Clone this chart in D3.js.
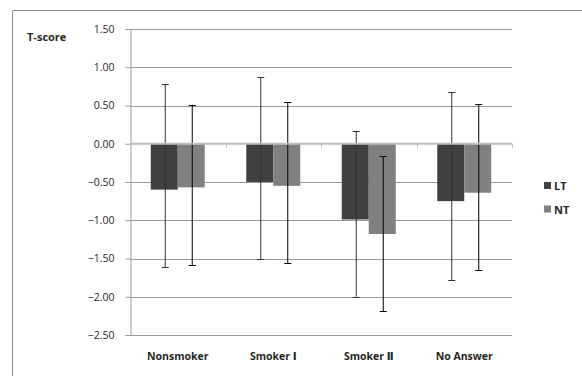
<!DOCTYPE html>
<html>
<head>
<meta charset="utf-8">
<script src="https://cdn.jsdelivr.net/npm/d3@7"></script>
<style>
  html, body { margin: 0; padding: 0; background: #fff; }
  svg { display: block; }
</style>
</head>
<body>
<svg id="chart" width="582" height="376"></svg>
<script>
const categories = ["Nonsmoker", "Smoker \u2160", "Smoker \u2161", "No Answer"];
const seriesNames = ["LT", "NT"];
const ltValues = [-0.60, -0.50, -0.99, -0.75];
const ntValues = [-0.57, -0.55, -1.18, -0.64];
const ltHigh = [0.78, 0.87, 0.17, 0.67];
const ltLow = [-1.61, -1.51, -2.00, -1.78];
const ntHigh = [0.51, 0.54, -0.16, 0.52];
const ntLow = [-1.59, -1.56, -2.19, -1.65];
const yTicks = [1.5, 1.0, 0.5, 0.0, -0.5, -1.0, -1.5, -2.0, -2.5];
const yTitle = "T-score";

const seriesColors = { LT: "#404040", NT: "#808080" };
const errColors = { LT: "#333333", NT: "#000000" };

const series = [
  { name: "LT", values: ltValues, high: ltHigh, low: ltLow },
  { name: "NT", values: ntValues, high: ntHigh, low: ntLow }
];

const svg = d3.select("#chart");
const font = "'Open Sans', 'DejaVu Sans', 'Liberation Sans', 'Noto Sans CJK SC', sans-serif";

// outer border (top and left visible)
svg.append("line").attr("x1", 12.5).attr("x2", 582).attr("y1", 10.5).attr("y2", 10.5)
  .attr("stroke", "#8c8c8c").attr("stroke-width", 1);
svg.append("line").attr("x1", 12.5).attr("x2", 12.5).attr("y1", 10.5).attr("y2", 376)
  .attr("stroke", "#8c8c8c").attr("stroke-width", 1);

const plotL = 130, plotR = 512, plotT = 29, plotB = 335;

const y = d3.scaleLinear().domain([-2.5, 1.5]).range([plotB, plotT]);
const x0 = d3.scaleBand().domain(categories).range([plotL, plotR]).padding(0);
const groupW = 54;
const x1 = d3.scaleBand().domain(seriesNames).range([0, groupW]).padding(0);
const groupOffset = (x0.bandwidth() - groupW) / 2;

// gridlines
svg.append("g").selectAll("line").data(yTicks.filter(d => d !== 0)).join("line")
  .attr("x1", plotL).attr("x2", plotR)
  .attr("y1", d => Math.round(y(d)) + 0.5).attr("y2", d => Math.round(y(d)) + 0.5)
  .attr("stroke", "#9a9a9a").attr("stroke-width", 1);

// left axis
const yAxis = d3.axisLeft(y).tickValues(yTicks).tickFormat(d3.format(".2f")).tickSize(5).tickPadding(11);
const gy = svg.append("g").attr("transform", `translate(${plotL + 0.5},0)`).call(yAxis);
gy.select(".domain").attr("stroke", "#9a9a9a");
gy.selectAll(".tick line").attr("stroke", "#9a9a9a");
gy.selectAll(".tick text").attr("fill", "#262626").attr("font-size", "10.5px").attr("font-family", font);

// y title
svg.append("text").attr("x", 27).attr("y", 41).text(yTitle)
  .attr("font-family", font).attr("font-size", "11px").attr("font-weight", "bold").attr("fill", "#262626");

// bars
const groups = svg.append("g").selectAll("g").data(categories).join("g")
  .attr("transform", c => `translate(${x0(c) + groupOffset},0)`);

groups.selectAll("rect").data((c, i) => series.map(s => ({ name: s.name, v: s.values[i] })))
  .join("rect")
  .attr("x", d => x1(d.name))
  .attr("width", x1.bandwidth())
  .attr("y", d => y(Math.max(0, d.v)))
  .attr("height", d => Math.abs(y(d.v) - y(0)))
  .attr("fill", d => seriesColors[d.name]);

// zero axis line
svg.append("line").attr("x1", plotL).attr("x2", plotR).attr("y1", y(0)).attr("y2", y(0))
  .attr("stroke", "#bdbdbd").attr("stroke-width", 2);
// category boundary ticks on zero line
svg.append("g").selectAll("line").data(categories.slice(1).concat(["_end"])).join("line")
  .attr("x1", (c, i) => Math.round(plotL + x0.bandwidth() * (i + 1)) + 0.5)
  .attr("x2", (c, i) => Math.round(plotL + x0.bandwidth() * (i + 1)) + 0.5)
  .attr("y1", y(0)).attr("y2", y(0) + 4)
  .attr("stroke", "#bdbdbd").attr("stroke-width", 1);

// error bars
const errs = groups.selectAll("g.err").data((c, i) => series.map(s => ({ name: s.name, hi: s.high[i], lo: s.low[i] })))
  .join("g").attr("class", "err");
errs.append("line")
  .attr("x1", d => Math.round(x1(d.name) + x1.bandwidth() / 2) + 0.5)
  .attr("x2", d => Math.round(x1(d.name) + x1.bandwidth() / 2) + 0.5)
  .attr("y1", d => y(d.hi)).attr("y2", d => y(d.lo))
  .attr("stroke", d => errColors[d.name]).attr("stroke-width", 1);
["hi", "lo"].forEach(k => {
  errs.append("line")
    .attr("x1", d => Math.round(x1(d.name) + x1.bandwidth() / 2) - 3)
    .attr("x2", d => Math.round(x1(d.name) + x1.bandwidth() / 2) + 4)
    .attr("y1", d => Math.round(y(d[k])) + 0.5).attr("y2", d => Math.round(y(d[k])) + 0.5)
    .attr("stroke", d => errColors[d.name]).attr("stroke-width", 1);
});

// category labels
svg.append("g").selectAll("text").data(categories).join("text")
  .attr("x", c => x0(c) + x0.bandwidth() / 2)
  .attr("y", 360)
  .attr("text-anchor", "middle")
  .attr("font-family", font).attr("font-size", "10.5px").attr("font-weight", "bold").attr("fill", "#262626")
  .text(c => c);

// legend
const legend = svg.append("g").selectAll("g").data(seriesNames).join("g")
  .attr("transform", (d, i) => `translate(544, ${182 + i * 23.5})`);
legend.append("rect").attr("width", 7).attr("height", 7).attr("fill", d => seriesColors[d]);
legend.append("text").attr("x", 10).attr("y", 8)
  .attr("font-family", font).attr("font-size", "11px").attr("font-weight", "bold").attr("fill", "#262626")
  .text(d => d);
</script>
</body>
</html>
